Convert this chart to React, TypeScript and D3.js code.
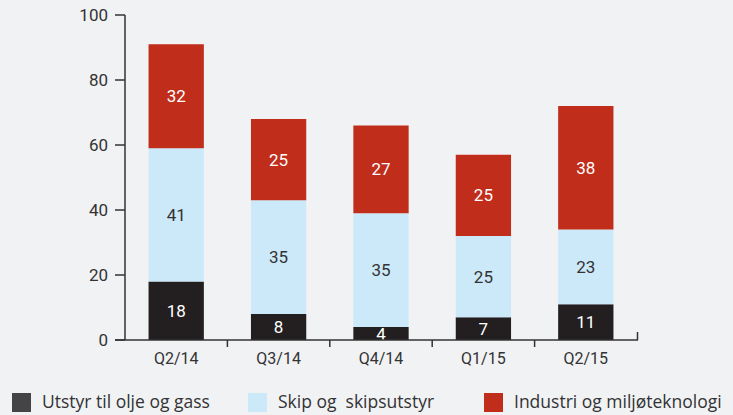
import React from "react";
import * as d3 from "d3";

const quarters = ["Q2/14", "Q3/14", "Q4/14", "Q1/15", "Q2/15"];
const utstyr = [18, 8, 4, 7, 11];
const skip = [41, 35, 35, 25, 23];
const industri = [32, 25, 27, 25, 38];
const seriesNames = ["Utstyr til olje og gass", "Skip og  skipsutstyr", "Industri og miljøteknologi"];
const yTicks = [0, 20, 40, 60, 80, 100];

const colors = ["#231f20", "#cce9f9", "#c12d1b"];
const legendColors = ["#444446", "#cce9f9", "#c12d1b"];
const textColor = "#333333";

const App = () => {
  const W = 733;
  const H = 415;
  const x = d3.scaleBand<string>().domain(quarters).range([125, 637]).paddingInner(0.46).paddingOuter(0.23);
  const y = d3.scaleLinear().domain([0, 100]).range([340, 15]);

  const rows = quarters.map((q, i) => ({ q, utstyr: utstyr[i], skip: skip[i], industri: industri[i] }));
  const stack = d3.stack<any>().keys(["utstyr", "skip", "industri"]);
  const layers = stack(rows);

  const step = x.step();
  const gapTicks = quarters.slice(0, -1).map((q) => (x(q) as number) + x.bandwidth() + (step * x.paddingInner()) / 2);

  // legend swatch x positions
  const legendX = [12, 248, 484];

  return (
    <svg width={W} height={H} style={{ position: "fixed", left: 0, top: 0, background: "#f1f2f4" }} fontFamily="Roboto, sans-serif">
      <rect width={W} height={H} fill="#f1f2f4" />
      {layers.map((layer, li) =>
        layer.map((d, i) => {
          const x0 = x(quarters[i]) as number;
          const top = y(d[1]);
          const bot = y(d[0]);
          return (
            <g key={`${li}-${i}`}>
              <rect x={x0} y={top} width={x.bandwidth()} height={bot - top} fill={colors[li]} />
              <text
                x={x0 + x.bandwidth() / 2}
                y={(top + bot) / 2}
                dy="0.36em"
                textAnchor="middle"
                fontSize={17}
                fill={li === 1 ? textColor : "#ffffff"}
              >
                {d[1] - d[0]}
              </text>
            </g>
          );
        })
      )}
      {/* y axis */}
      <line x1={125} x2={125} y1={15} y2={340} stroke={textColor} strokeWidth={1.5} />
      {yTicks.map((t) => (
        <g key={t}>
          <line x1={115} x2={125} y1={y(t)} y2={y(t)} stroke={textColor} strokeWidth={1.5} />
          <text x={108} y={y(t)} dy="0.36em" textAnchor="end" fontSize={17} fill={textColor}>
            {t}
          </text>
        </g>
      ))}
      {/* x axis */}
      <line x1={115} x2={638} y1={340} y2={340} stroke={textColor} strokeWidth={1.5} />
      <line x1={637.5} x2={637.5} y1={332} y2={340} stroke={textColor} strokeWidth={1.5} />
      {gapTicks.map((gx, i) => (
        <line key={i} x1={gx} x2={gx} y1={340} y2={347} stroke={textColor} strokeWidth={1.5} />
      ))}
      {quarters.map((q) => (
        <text key={q} x={(x(q) as number) + x.bandwidth() / 2} y={364} textAnchor="middle" fontSize={16} fill={textColor}>
          {q}
        </text>
      ))}
      {/* legend */}
      {seriesNames.map((name, i) => {
        const lx = legendX[i];
        return (
          <g key={name}>
            <rect x={lx} y={393} width={19} height={19} fill={legendColors[i]} />
            <text x={lx + 30} y={408} fontSize={17.5} fontFamily="'Open Sans', sans-serif" fill={textColor} style={{ whiteSpace: "pre" }}>
              {name}
            </text>
          </g>
        );
      })}
    </svg>
  );
};

export default App;
